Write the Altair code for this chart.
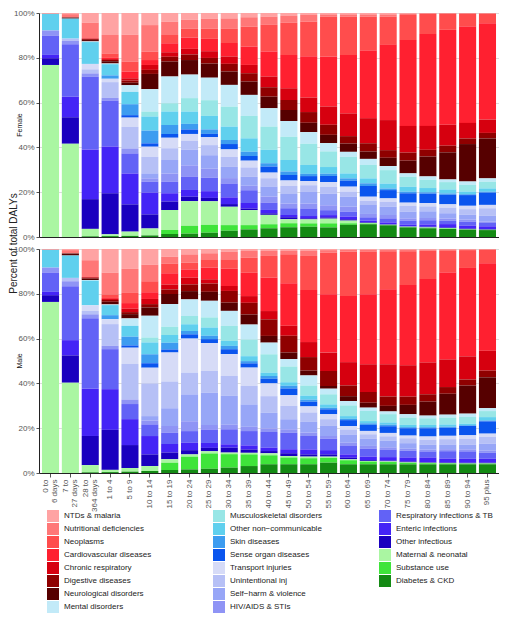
import altair as alt
import pandas as pd

AGES = ["0 to|6 days", "7 to|27 days", "28 to|364 days", "1 to 4", "5 to 9", "10 to 14",
        "15 to 19", "20 to 24", "25 to 29", "30 to 34", "35 to 39", "40 to 44", "45 to 49",
        "50 to 54", "55 to 59", "60 to 64", "65 to 69", "70 to 74", "75 to 79", "80 to 84",
        "85 to 89", "90 to 94", "95 plus"]

# legend order (top of stack first)
CAUSES = ["NTDs & malaria", "Nutritional deficiencies", "Neoplasms", "Cardiovascular diseases",
          "Chronic respiratory", "Digestive diseases", "Neurological disorders", "Mental disorders",
          "Musculoskeletal disorders", "Other non\u2212communicable", "Skin diseases",
          "Sense organ diseases", "Transport injuries", "Unintentional inj", "Self\u2212harm & violence",
          "HIV/AIDS & STIs", "Respiratory infections & TB", "Enteric infections", "Other infectious",
          "Maternal & neonatal", "Substance use", "Diabetes & CKD"]

COLORS = ["#ffa3a3", "#ff7777", "#ff4d4d", "#ff2030", "#d6000f", "#8f0000", "#560000", "#c2eaf8",
          "#98e6e6", "#60d0ee", "#3d9cf0", "#0a55ee", "#d6dbf7", "#b6c0f6", "#97a6f7", "#8f94f5",
          "#6262f6", "#4424f6", "#1a00bf", "#aaf6a2", "#3fe43a", "#148a14"]

# ---- Female (percent of DALYs per age group) ----
F_NTD = [.2, .5, 4.3, 9.8, 9.7, 5.4, 3.9, 3, 2.5, 2.4, 1.9, 1.6, 1.3, .9, .6, .6, .6, .6, .3, .1, .1, .1, .1]
F_NUT = [.2, 1.5, 7.0, 8.2, 12.0, 11.9, 5.9, 4, 4.5, 4.5, 4.2, 3.7, 3.0, 3.0, 1.0, 1.0, 1.0, 1.0, .6, .3, .2, .2, .2]
F_NEO = [0, 0, 0, 2.0, 4.5, 3.7, 3.7, 4, 4.5, 6.5, 8.9, 11.9, 14.4, 15.5, 17.9, 17.1, 15.2, 12.6, 11.2, 9.0, 7.3, 5.8, 4.3]
F_CVD = [0, 0, 0, .5, 3.0, 2.2, 4.0, 5, 5.5, 6.0, 8.2, 11.2, 14.9, 18.5, 22.3, 26.0, 30.2, 33.5, 38.4, 41.1, 42.7, 43.2, 43.2]
F_CR = [0, 0, .3, .4, 1.0, 2.2, 2.0, 2.5, 3, 3.3, 3.7, 4.8, 5.2, 6.5, 8.2, 10.1, 11.2, 13.4, 11.9, 10.7, 9.4, 7.0, 6.0]
F_DIG = [0, 0, .4, .6, 1.0, 1.8, 2.2, 2.5, 2.5, 3.4, 3.7, 4.2, 4.5, 4.8, 4.5, 3.3, 3.7, 3.4, 3.6, 3.0, 3.0, 2.5, 2.5]
F_NEU = [0, .5, .6, 1.0, 1.1, 6.8, 6.7, 6.5, 6.3, 6.0, 6.0, 5.2, 4.9, 4.2, 3.7, 3.7, 3.3, 3.7, 5.7, 8.9, 12.2, 16.8, 17.9]
F_MEN = [0, 0, .3, .3, 3.0, 10.0, 11.9, 10.5, 10, 9.7, 9.4, 8.2, 7.0, 5.2, 3.7, 2.2, 2.7, 1.8, 1.5, 1.5, 1.2, 1.5, 1.5]
F_MSK = [0, 0, 0, 0, 0, 2.2, 3.7, 6, 7, 8.9, 10.0, 10.4, 10.4, 9.5, 7.0, 7.4, 6.0, 6.0, 4.5, 3.7, 3.3, 3.0, 3.0]
F_ONC = [7.4, 8.9, 9.7, 5.0, 5.5, 6.3, 6.0, 5.5, 6, 6.0, 6.0, 6.0, 5.2, 4.0, 3.0, 2.2, 2.2, 2.2, 2.2, 1.9, 1.8, 1.2, 1.5]
F_SK = [0, 0, 0, 1.5, 4.9, 5.7, 4.0, 2.5, 2, 1.8, 1.9, 1.5, 1.5, 1.0, 1.0, 1.0, 1.2, .7, .7, .6, .6, .4, .4]
F_SO = [0, 0, 0, 0, 1.1, 1.5, 1.7, 2, 1.5, 2.4, 2.1, 2.7, 2.5, 2.2, 2.7, 2.7, 4.8, 3.7, 4.2, 4.2, 4.3, 4.8, 5.5]
F_TI = [0, 0, 2.4, 1.5, 4.1, 4.5, 4.7, 3, 3.5, 3.3, 3.0, 2.5, 2.4, 1.9, 2.2, 2.2, 1.8, 1.5, 1.5, 1.5, 1.5, 1.5, 1.5]
F_UI = [0, 1.0, 1.8, 7.0, 9.7, 7.4, 5.2, 4, 4.5, 4.5, 4.2, 3.7, 3.6, 3.0, 3.0, 2.2, 1.9, 2.2, 2.5, 2.2, 2.5, 2.5, 3.4]
F_SH = [0, 0, 0, 0, 0, 2.2, 6.0, 7, 6, 5.0, 4.0, 4.5, 4.2, 5.2, 5.2, 4.5, 4.0, 3.7, 3.0, 3.0, 2.4, 2.2, 2.5]
F_HIV = [2.4, 1.5, 1.5, 1.2, 2.2, 1.5, 3.7, 5, 4, 2.4, 2.0, 2.7, 2.2, 2.2, 2.2, 2.2, 1.5, 1.5, 1.0, 1.0, 1.0, .9, .7]
F_RI = [8.5, 23.4, 32.3, 20.5, 9.0, 4.9, 5.2, 6, 6, 6.2, 5.7, 3.3, 3.0, 3.4, 2.2, 2.2, 1.5, 1.8, 1.9, 1.9, 1.5, 1.8, 1.5]
F_EI = [1.5, 9.1, 22.0, 20.8, 13.8, 9.7, 3.7, 3, 3, 3.0, 2.5, 1.5, 1.0, 1.0, 1.0, 1.2, .7, .7, .7, 1.0, 1.5, 1.3, 1.2]
F_OI = [3.0, 11.8, 13.2, 18.3, 12.2, 6.3, 3.7, 2, 1.5, 1.2, .7, .7, .9, .5, .6, .6, .3, .3, .15, .3, .3, .3, .3]
F_MN = [76.8, 41.5, 3.3, .8, 1.9, 3.1, 9.0, 11, 10.5, 8.2, 6.7, 4.2, 1.8, 1.8, 2.1, 1.2, .3, .15, .15, .2, .2, .1, .1]
F_SU = [0, 0, 0, 0, 0, 0, 1.8, 3.5, 3.5, 2.5, 1.9, 1.8, 1.8, 1.5, 1.8, .7, .3, .15, .15, .2, .2, .1, .1]
F_DB = [0, 0, .3, .4, .5, .7, 1.3, 1.5, 1.9, 2.8, 3.4, 3.9, 4.3, 4.6, 4.3, 5.4, 5.7, 5.2, 4.3, 3.9, 3.6, 3.3, 3.1]

# ---- Male ----
M_NTD = [.2, .5, 5, 10.6, 8.8, 7.0, 3.5, 2.4, 1.9, 1.3, .9, .9, .9, .9, .5, .4, .4, .3, .3, .3, .2, .2, .1]
M_NUT = [.2, 1.5, 7.5, 9.7, 10.7, 7.4, 3.0, 3.7, 2.7, 3.3, 3.0, 2.2, 1.5, 2.2, 1.1, .8, .9, .7, .7, .5, .4, .3, .3]
M_NEO = [0, 0, 0, 1.6, 4.5, 4.9, 4.3, 3.0, 3.7, 4.2, 6.7, 9.7, 12.9, 15.2, 18.6, 19.8, 18.9, 17.0, 15.2, 12.7, 10.0, 8.0, 6.0]
M_CVD = [0, 0, 0, .4, 2.5, 3.0, 5.0, 3.7, 5.2, 7.7, 10.4, 14.9, 19.0, 23.2, 26.0, 29.5, 31.3, 33.5, 36.0, 37.5, 39.0, 39.6, 39.1]
M_CR = [0, 0, .3, .5, 1.5, 2.3, 2.2, 3.0, 1.9, 2.2, 3.0, 3.7, 4.5, 6.7, 8.2, 10.4, 12.4, 14.4, 14.1, 14.3, 12.4, 10.4, 8.9]
M_DIG = [0, 0, .4, .8, .9, 1.5, 2.0, 3.0, 3.7, 5.2, 5.2, 7.4, 7.4, 6.0, 6.7, 4.8, 4.8, 4.2, 3.7, 3.3, 3.0, 2.7, 3.0]
M_NEU = [0, .9, .6, 1.2, 1.9, 3.7, 4.5, 3.7, 4.0, 3.7, 4.5, 3.0, 3.0, 2.2, 1.2, 2.2, 2.2, 2.5, 4.2, 6.3, 9.4, 12.6, 13.8]
M_MEN = [0, 0, .3, .3, 3.3, 9.7, 10.1, 7.4, 7.4, 6.7, 6.7, 5.2, 3.3, 4.5, 2.5, 1.9, 1.5, 1.2, 1.5, 1.2, 1.3, 1.5, 1.3]
M_MSK = [0, 0, 0, 0, 0, 2.2, 3.7, 3.7, 4.5, 6.7, 7.4, 8.2, 7.1, 4.5, 4.5, 4.8, 4.5, 3.7, 3.3, 3.0, 3.1, 3.0, 2.7]
M_ONC = [7.9, 10.0, 11, 4.5, 4.8, 5.3, 3.5, 3.0, 3.7, 2.2, 2.2, 1.5, 1.5, 1.8, 1.5, 1.2, 1.0, 1.0, 1.0, 1.0, 1.0, .7, 1.5]
M_SK = [0, 0, 0, 1.8, 3.9, 4.0, 3.0, 1.5, 1.5, 1.5, 1.0, 1.2, 1.2, .9, .7, .6, .7, .7, .5, .5, .5, .3, .4]
M_SO = [0, 0, 0, 0, 1.0, 2.0, 1.3, 1.9, 1.8, 2.2, 1.9, 2.1, 3.0, 2.1, 2.2, 2.7, 2.7, 3.0, 3.3, 3.7, 3.6, 4.2, 5.5]
M_TI = [0, 0, 2.5, 2.2, 7.2, 7.0, 12.9, 15.2, 12.4, 9.7, 8.2, 5.7, 4.8, 2.7, 2.2, 1.5, 1.5, 1.5, 1.2, 1.5, 1.5, 1.5, 1.5]
M_UI = [0, 1.5, 1.5, 9.7, 15.8, 14.6, 11.9, 9.7, 9.7, 8.9, 8.2, 7.4, 6.0, 4.2, 3.0, 2.2, 1.9, 1.9, 2.2, 2.2, 2.4, 2.7, 3.0]
M_SH = [0, 0, 0, 0, 0, 2.0, 8.0, 12.0, 14.4, 12.9, 10.0, 7.0, 4.5, 4.8, 4.5, 3.7, 3.3, 3.0, 2.5, 2.2, 2.1, 2.1, 3.0]
M_HIV = [2.2, 2.2, 1.7, 1.5, 2.0, 1.7, 3.0, 4.4, 2.0, 2.0, 1.9, 1.6, 1.5, 1.5, 1.2, 1.2, 1.2, 1.0, .9, .8, .9, .9, 1.0]
M_RI = [8.6, 24.1, 31.5, 17.9, 6.7, 5.2, 5.0, 5.2, 6.0, 6.7, 6.4, 7.0, 7.4, 6.0, 5.1, 4.0, 3.6, 3.4, 3.0, 2.7, 3.3, 3.3, 2.7]
M_EI = [1.5, 6.8, 21, 18.2, 11.5, 8.2, 3.8, 3.3, 2.2, 1.5, 1.8, 1.5, 1.8, 2.2, 1.9, 1.5, 1.5, 1.5, 1.8, 2.1, 1.8, 1.8, 1.8]
M_OI = [3.0, 12.2, 13, 17.9, 10.2, 5.2, 3.0, 1.9, 1.5, 2.2, 1.5, 1.0, 1.2, 1.0, 1.0, .7, .4, .4, .4, .3, .3, .3, .3]
M_MN = [76.3, 40.3, 3.2, 1.0, 1.6, 2.2, 1.5, 1.0, 1.0, .7, .7, .9, .7, .7, .6, .4, .3, .3, .2, .2, .1, .1, .1]
M_SU = [0, 0, 0, 0, 0, 0, 3.3, 5.7, 6.8, 6.0, 5.2, 4.0, 3.0, 2.7, 2.1, 1.8, 1.2, 1.0, .7, .5, .4, .3, .3]
M_DB = [0, 0, .3, .4, .6, .9, 1.3, 1.6, 1.9, 2.4, 3.1, 3.9, 3.9, 3.9, 4.6, 3.9, 3.9, 3.9, 3.9, 3.9, 3.9, 3.9, 3.9]

FEMALE = [F_NTD, F_NUT, F_NEO, F_CVD, F_CR, F_DIG, F_NEU, F_MEN, F_MSK, F_ONC, F_SK, F_SO,
          F_TI, F_UI, F_SH, F_HIV, F_RI, F_EI, F_OI, F_MN, F_SU, F_DB]
MALE = [M_NTD, M_NUT, M_NEO, M_CVD, M_CR, M_DIG, M_NEU, M_MEN, M_MSK, M_ONC, M_SK, M_SO,
        M_TI, M_UI, M_SH, M_HIV, M_RI, M_EI, M_OI, M_MN, M_SU, M_DB]

rows = []
for sex, series in (("Female", FEMALE), ("Male", MALE)):
    for ci, (cause, vals) in enumerate(zip(CAUSES, series)):
        for age, v in zip(AGES, vals):
            rows.append({"sex": sex, "age": age, "cause": cause, "value": v,
                         "k": len(CAUSES) - 1 - ci})
df = pd.DataFrame(rows)

# legend: 3 columns of 8 (two blank slots close the third column)
LEG_DOMAIN = CAUSES + ["zz1", "zz2"]
LEG_RANGE = COLORS + ["#ffffff", "#ffffff"]

W, H = 460, 224
FONT = "Liberation Sans"
TWO_LINE = {"condition": {"test": "indexof(datum.value, '|') >= 0", "value": -4.5}, "value": 0}


def panel(sex, bottom):
    x_axis = (alt.Axis(title=None, labelAngle=270, labelFontSize=8, labelColor="#555555",
                       labelExpr="split(datum.label, '|')", labelLineHeight=9,
                       labelOffset=TWO_LINE,
                       tickSize=4, labelPadding=2, domainColor="#222222", tickColor="#555555")
              if bottom else
              alt.Axis(title=None, labels=False, ticks=False, domainColor="#222222"))
    if bottom:
        y_axis = alt.Axis(title=None, values=[0, .2, .4, .6, .8, 1], format=".0%",
                          labelFontSize=8, labelColor="#555555", tickSize=3,
                          domainColor="#222222", tickColor="#555555", labelPadding=2)
    else:
        y_axis = alt.Axis(title="Percent of total DALYs", values=[0, .2, .4, .6, .8, 1],
                          format=".0%", labelFontSize=8, labelColor="#555555", tickSize=3,
                          domainColor="#222222", tickColor="#555555", labelPadding=2,
                          titleFontSize=10, titleFontWeight="normal", titleColor="#222222",
                          titleX=-21, titleY=H + 6, titleAngle=270, titleAlign="center",
                          titleBaseline="bottom")
    legend = alt.Legend(orient="none", legendX=8, legendY=497, columns=3, title=None,
                        symbolType="square", symbolSize=144, symbolStrokeWidth=0,
                        labelFontSize=8, labelColor="#222222", rowPadding=1,
                        columnPadding=52, gridAlign="all", labelOffset=5, labelLimit=200,
                        labelExpr="indexof(datum.label, 'zz') == 0 ? '' : datum.label")
    bars = alt.Chart(df[df.sex == sex]).mark_bar(strokeWidth=0).encode(
        x=alt.X("age:N", sort=AGES,
                scale=alt.Scale(paddingInner=0.14, paddingOuter=0.15), axis=x_axis),
        y=alt.Y("value:Q", stack="normalize", scale=alt.Scale(domain=[0, 1], nice=False),
                axis=y_axis),
        color=alt.Color("cause:N", scale=alt.Scale(domain=LEG_DOMAIN, range=LEG_RANGE),
                        legend=legend),
        order=alt.Order("k:Q", sort="ascending"),
    )
    lab = alt.Chart(pd.DataFrame({"t": [sex]})).mark_text(
        angle=270, fontSize=7, color="#111111", align="center", baseline="middle"
    ).encode(text="t:N", x=alt.value(-19), y=alt.value(H / 2))
    return alt.layer(bars, lab).properties(width=W, height=H)


chart = alt.vconcat(panel("Female", False), panel("Male", True), spacing=12,
                    bounds="flush").properties(
    padding={"left": 0, "top": 1, "right": 0, "bottom": 0}
).configure(font=FONT).configure_view(stroke=None)

chart.save("out.html", embed_options={"renderer": "svg", "actions": False})
